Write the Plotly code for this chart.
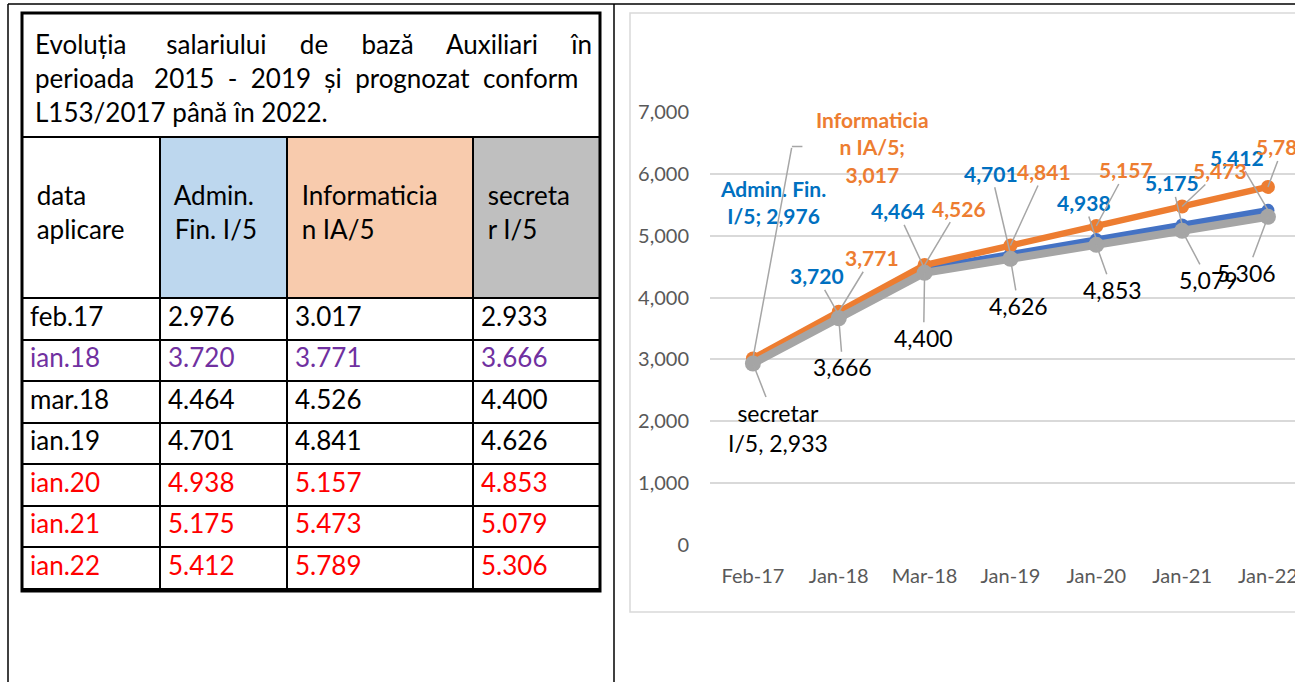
import plotly.graph_objects as go

# ---------------- data ----------------
title_lines = [
    ["Evoluția", "salariului", "de", "bază", "Auxiliari", "în"],
    ["perioada", "2015", "-", "2019", "și", "prognozat", "conform"],
    ["L153/2017", "până", "în", "2022."],
]
header_labels = ["data<br>aplicare", "Admin.<br>Fin. I/5", "Informaticia<br>n IA/5", "secreta<br>r I/5"]
date_labels = ["feb.17", "ian.18", "mar.18", "ian.19", "ian.20", "ian.21", "ian.22"]
admin_text = ["2.976", "3.720", "4.464", "4.701", "4.938", "5.175", "5.412"]
info_text = ["3.017", "3.771", "4.526", "4.841", "5.157", "5.473", "5.789"]
secr_text = ["2.933", "3.666", "4.400", "4.626", "4.853", "5.079", "5.306"]
row_colors = ["#000000", "#7030A0", "#000000", "#000000", "#FF0000", "#FF0000", "#FF0000"]

categories = ["Feb-17", "Jan-18", "Mar-18", "Jan-19", "Jan-20", "Jan-21", "Jan-22"]
admin = [2976, 3720, 4464, 4701, 4938, 5175, 5412]
info = [3017, 3771, 4526, 4841, 5157, 5473, 5789]
secr = [2933, 3666, 4400, 4626, 4853, 5079, 5306]

W, H = 1295, 682
FONT = "Lato"
NB = "&nbsp;"

def px(x):
    return x / W

def py(y):
    return 1 - y / H

# justified-looking title: extra spaces per gap for lines 1 and 2
gaps = [[6, 5, 5, 5, 5], [3, 2, 2, 2, 2, 2, 2]]
title_html = []
for li, words in enumerate(title_lines):
    if li < len(gaps):
        s = words[0]
        for w, g in zip(words[1:], gaps[li]):
            s += NB * g + w
    else:
        s = " ".join(words)
    title_html.append(s)
title_text = "<br>".join(title_html)

fig = go.Figure()

# title box (one-column table, borders drawn by shapes)
fig.add_trace(go.Table(
    domain=dict(x=[px(27), px(605)], y=[py(137), py(20)]),
    columnwidth=[1],
    header=dict(values=[title_text], height=117, align="left", fill_color="rgba(0,0,0,0)",
                line=dict(color="rgba(0,0,0,0)", width=0),
                font=dict(family=FONT, size=26, color="black")),
    cells=dict(values=[[]], height=0),
))

# main table
font_colors = [row_colors, row_colors, row_colors, row_colors]
fig.add_trace(go.Table(
    domain=dict(x=[px(22), px(600)], y=[py(591), py(137)]),
    columnwidth=[138, 127, 186, 127],
    header=dict(values=[NB + "<br>" + NB + h.replace("<br>", "<br>" + NB) for h in header_labels],
                height=161, align="left",
                fill_color=["white", "#BDD7EE", "#F8CBAD", "#BFBFBF"],
                line=dict(color="black", width=2),
                font=dict(family=FONT, size=26, color="black")),
    cells=dict(values=[date_labels, admin_text, info_text, secr_text],
               height=41.5, align="left", fill_color="white",
               line=dict(color="black", width=2),
               font=dict(family=FONT, size=26, color=font_colors)),
))

# chart traces
series = [
    ("Admin. Fin. I/5", admin, "#4472C4", 6.5, 13),
    ("Informatician IA/5", info, "#ED7D31", 6.5, 14),
    ("secretar I/5", secr, "#A5A5A5", 8, 16),
]
for name, vals, col, lw, ms in series:
    fig.add_trace(go.Scatter(
        x=list(range(len(categories))), y=vals, name=name, mode="lines+markers",
        line=dict(color=col, width=lw), marker=dict(color=col, size=ms),
        xaxis="x", yaxis="y", showlegend=False, cliponaxis=False, hoverinfo="skip",
    ))

annotations = []
LEAD = "#A6A6A6"

def fmt(v):
    return f"{v:,}"

blue_off = [(20, -159), (-22, -39), (-27, -58), (-19, -81), (-12, -37), (-10, -42), (-31, -53)]
orange_off = [(120, -211), (33, -54), (34, -57), (34, -74), (30, -56), (38, -36), (15, -40)]
gray_off = [(25, 64), (4, 49), (-1, 65), (8, 47), (16, 45), (26, 49), (-21, 56)]

for i, v in enumerate(admin):
    ax, ay = blue_off[i]
    bf = dict(family=FONT, size=21, color="#0070C0", weight="bold")
    if i == 0:
        annotations.append(dict(x=i, y=v, xref="x", yref="y", text=f"Admin. Fin.<br>I/5; {fmt(v)}",
                                showarrow=False, xshift=ax, yshift=-ay, font=bf))
        continue
    annotations.append(dict(x=i, y=v, xref="x", yref="y", text=fmt(v), showarrow=True,
                            ax=ax, ay=ay, arrowhead=0, arrowwidth=1.5, arrowcolor=LEAD,
                            standoff=0, font=bf))
for i, v in enumerate(info):
    ax, ay = orange_off[i]
    of = dict(family=FONT, size=21, color="#ED7D31", weight="bold")
    if i == 0:
        annotations.append(dict(x=i, y=v, xref="x", yref="y", text=f"Informaticia<br>n IA/5;<br>{fmt(v)}",
                                showarrow=False, xshift=ax, yshift=-ay, font=of))
        # elbow leader line: long slanted part + short horizontal tick
        annotations.append(dict(x=i, y=v, xref="x", yref="y", text="", showarrow=True,
                                ax=39, ay=-212, arrowhead=0, arrowwidth=1.5, arrowcolor=LEAD, standoff=0))
        annotations.append(dict(x=i, y=v, xref="x", yref="y", text="", showarrow=True,
                                xshift=39, yshift=212, ax=12, ay=0,
                                arrowhead=0, arrowwidth=1.5, arrowcolor=LEAD, standoff=0))
        continue
    annotations.append(dict(x=i, y=v, xref="x", yref="y", text=fmt(v), showarrow=True,
                            ax=ax, ay=ay, arrowhead=0, arrowwidth=1.5, arrowcolor=LEAD,
                            standoff=0, font=of))
for i, v in enumerate(secr):
    t = fmt(v) if i else f"secretar<br>I/5, {fmt(v)}"
    ax, ay = gray_off[i]
    annotations.append(dict(x=i, y=v, xref="x", yref="y", text=t, showarrow=True,
                            ax=ax, ay=ay, arrowhead=0, arrowwidth=1.5, arrowcolor=LEAD,
                            standoff=0, font=dict(family=FONT, size=23, color="#000000")))

shapes = [
    # document frame lines
    dict(type="line", xref="paper", yref="paper", x0=px(8), x1=1, y0=py(4), y1=py(4),
         line=dict(color="black", width=1.5)),
    dict(type="line", xref="paper", yref="paper", x0=px(8), x1=px(8), y0=py(4), y1=0,
         line=dict(color="black", width=1.5)),
    dict(type="line", xref="paper", yref="paper", x0=px(614), x1=px(614), y0=py(4), y1=0,
         line=dict(color="black", width=1.5)),
    # chart area border
    dict(type="rect", xref="paper", yref="paper", x0=px(630), x1=1.01, y0=py(612), y1=py(13),
         line=dict(color="#D9D9D9", width=1.5)),
    # thick outer border of the inner table
    dict(type="rect", xref="paper", yref="paper", x0=px(22), x1=px(600), y0=py(591), y1=py(13),
         line=dict(color="black", width=3)),
    # separator under title
    dict(type="line", xref="paper", yref="paper", x0=px(22), x1=px(600), y0=py(137), y1=py(137),
         line=dict(color="black", width=2)),
]

fig.update_layout(
    width=W, height=H, margin=dict(l=0, r=0, t=0, b=0, pad=0, autoexpand=False),
    paper_bgcolor="white", plot_bgcolor="white", hovermode=False,
    xaxis=dict(domain=[px(710), 1], range=[-0.5, 6.315], tickmode="array",
               tickvals=list(range(len(categories))), ticktext=categories,
               showgrid=False, zeroline=False, showline=False, ticks="", automargin=False,
               ticklabelstandoff=17, ticklabeloverflow="allow",
               tickfont=dict(family=FONT, size=20, color="#595959")),
    yaxis=dict(domain=[py(545), py(112)], range=[0, 7000], tickvals=[0, 1000, 2000, 3000, 4000, 5000, 6000, 7000],
               tickformat=",d", showgrid=True, gridcolor="#D9D9D9", gridwidth=1.5, automargin=False,
               zeroline=False, showline=False, ticks="", ticklabelstandoff=20,
               tickfont=dict(family=FONT, size=20, color="#595959")),
    annotations=annotations, shapes=shapes,
)

fig.write_html("out.html", config={"displayModeBar": False},
               post_script="document.body.style.margin='0px';document.body.style.overflow='hidden';")
